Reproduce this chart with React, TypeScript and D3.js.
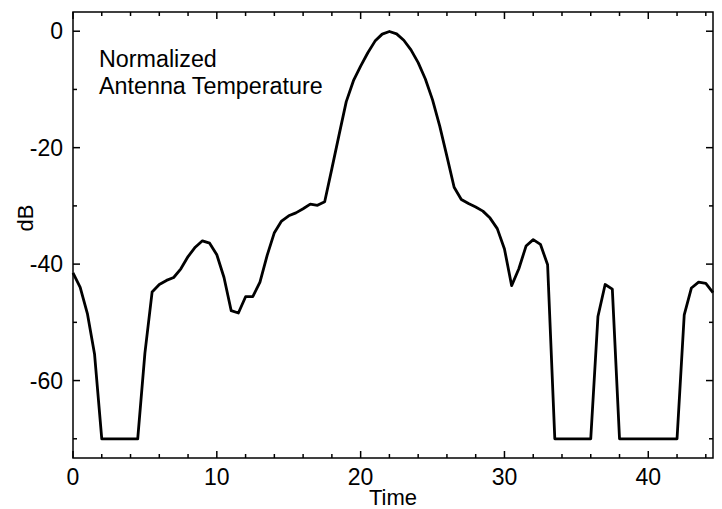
import { useEffect, useRef } from "react";
import * as d3 from "d3";

const times: number[] = d3.range(0, 44.51, 0.5);
const dB: number[] = [
  -41.5, -44.0, -48.5, -55.5, -70, -70, -70, -70, -70, -70,
  -55.3, -44.8, -43.5, -42.8, -42.3, -40.8, -38.7, -37.1, -36.0, -36.4,
  -38.4, -42.3, -48.0, -48.4, -45.6, -45.6, -43.1, -38.5, -34.6, -32.6,
  -31.7, -31.2, -30.5, -29.7, -29.9, -29.3, -23.6, -17.8, -12.1, -8.5,
  -6.0, -3.7, -1.7, -0.5, -0.05, -0.45, -1.55, -3.2, -5.4, -8.2,
  -11.8, -16.3, -21.5, -26.8, -28.9, -29.6, -30.2, -30.9, -32.1, -33.9,
  -37.4, -43.7, -40.8, -36.9, -35.8, -36.6, -40.1, -70, -70, -70,
  -70, -70, -70, -49.0, -43.5, -44.3, -70, -70, -70, -70,
  -70, -70, -70, -70, -70, -48.7, -44.1, -43.1, -43.3, -44.9,
];
const xTicks: number[] = [0, 10, 20, 30, 40];
const yTicks: number[] = [0, -20, -40, -60];
const noteLines: string[] = ["Normalized", "Antenna Temperature"];

const W = 722;
const H = 509;
const m = { top: 12, right: 9, bottom: 51, left: 73 };
const font = "Liberation Sans, Arial, Helvetica, sans-serif";

export default function App() {
  const ref = useRef<SVGSVGElement>(null);

  useEffect(() => {
    const svg = d3.select(ref.current);
    svg.selectAll("*").remove();

    const x = d3.scaleLinear().domain([0, 44.5]).range([m.left, W - m.right]);
    const y = d3.scaleLinear().domain([-73.3, 3.3]).range([H - m.bottom, m.top]);
    const x0 = x.range()[0], x1 = x.range()[1];
    const y0 = y.range()[0], y1 = y.range()[1];

    // frame
    svg.append("rect")
      .attr("x", x0).attr("y", y1)
      .attr("width", x1 - x0).attr("height", y0 - y1)
      .attr("fill", "none").attr("stroke", "#000").attr("stroke-width", 1.5);

    // inward ticks on all four sides
    const xMinor = d3.range(0, 44.6, 2);
    const yMinor = d3.range(0, -73.3, -10);
    const ticks = svg.append("g").attr("stroke", "#000").attr("stroke-width", 1.5);
    xMinor.forEach((t) => {
      const len = t % 10 === 0 ? 7 : 4;
      ticks.append("line").attr("x1", x(t)).attr("x2", x(t)).attr("y1", y0).attr("y2", y0 - len);
      ticks.append("line").attr("x1", x(t)).attr("x2", x(t)).attr("y1", y1).attr("y2", y1 + len);
    });
    yMinor.forEach((v) => {
      const len = v % 20 === 0 ? 7 : 4;
      ticks.append("line").attr("x1", x0).attr("x2", x0 + len).attr("y1", y(v)).attr("y2", y(v));
      ticks.append("line").attr("x1", x1).attr("x2", x1 - len).attr("y1", y(v)).attr("y2", y(v));
    });

    // tick labels
    svg.append("g")
      .selectAll("text")
      .data(xTicks)
      .join("text")
      .attr("x", (d) => x(d))
      .attr("y", y0 + 27)
      .attr("text-anchor", "middle")
      .style("font-family", font)
      .style("font-size", "23px")
      .text((d) => d);

    svg.append("g")
      .selectAll("text")
      .data(yTicks)
      .join("text")
      .attr("x", x0 - 10)
      .attr("y", (d) => y(d) + 8)
      .attr("text-anchor", "end")
      .style("font-family", font)
      .style("font-size", "23px")
      .text((d) => d);

    // axis titles
    svg.append("text")
      .attr("x", (x0 + x1) / 2)
      .attr("y", H - 4)
      .attr("text-anchor", "middle")
      .style("font-family", font)
      .style("font-size", "22px")
      .text("Time");

    svg.append("text")
      .attr("transform", `translate(33,${218}) rotate(-90)`)
      .attr("text-anchor", "middle")
      .style("font-family", font)
      .style("font-size", "22px")
      .text("dB");

    // annotation
    svg.append("g")
      .selectAll("text")
      .data(noteLines)
      .join("text")
      .attr("x", 99)
      .attr("y", (d, i) => 67 + i * 27)
      .style("font-family", font)
      .style("font-size", "23.3px")
      .text((d) => d);

    // curve
    const line = d3.line<number>()
      .x((d, i) => x(times[i]))
      .y((d) => y(d));
    svg.append("path")
      .datum(dB)
      .attr("d", line)
      .attr("fill", "none")
      .attr("stroke", "#000")
      .attr("stroke-width", 2.8)
      .attr("stroke-linejoin", "round");
  }, []);

  return (
    <div style={{ position: "absolute", left: 0, top: 0 }}>
      <svg ref={ref} width={W} height={H} style={{ display: "block", background: "#fff" }} />
    </div>
  );
}
